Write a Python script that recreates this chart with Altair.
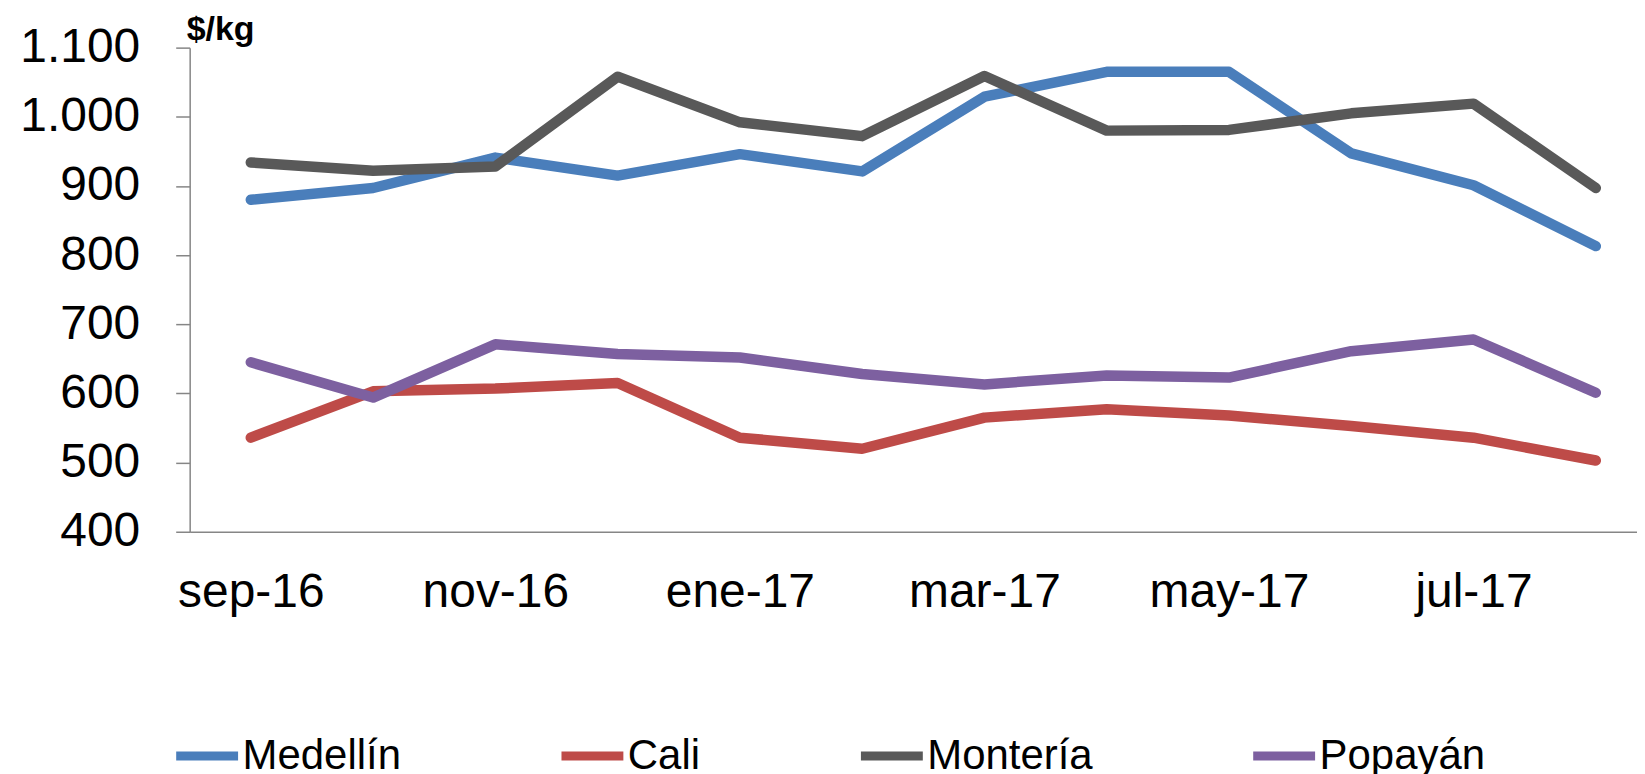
import altair as alt
import pandas as pd

months = ['sep-16', 'oct-16', 'nov-16', 'dic-16', 'ene-17', 'feb-17',
          'mar-17', 'abr-17', 'may-17', 'jun-17', 'jul-17', 'ago-17']
medellin = [880, 897, 941, 915, 946, 921, 1029, 1065, 1065, 947, 901, 813]
cali = [536, 603, 607, 615, 536, 520, 565, 577, 568, 553, 536, 503]
monteria = [934, 922, 928, 1058, 992, 972, 1059, 980, 981, 1005, 1019, 897]
popayan = [645, 594, 671, 657, 652, 628, 613, 626, 623, 661, 678, 601]

series_names = ['Medellín', 'Cali', 'Montería', 'Popayán']
series_values = [medellin, cali, monteria, popayan]
colors = ['#4A7EBB', '#BE4B48', '#595959', '#7D60A0']

rows = []
for name, vals in zip(series_names, series_values):
    for i, v in enumerate(vals):
        rows.append({'idx': i, 'mes': months[i], 'ciudad': name, 'valor': v})
df = pd.DataFrame(rows)

FONT = 'Liberation Sans'
label_lookup = '[' + ','.join("'" + m + "'" for m in months) + ']'

chart = alt.Chart(df).mark_line(strokeWidth=10.5, strokeCap='round', strokeJoin='round').encode(
    x=alt.X('idx:Q',
            scale=alt.Scale(domain=[-0.5, 11.337], nice=False, zero=False),
            axis=alt.Axis(values=[0, 2, 4, 6, 8, 10], labelExpr=label_lookup + '[datum.value]',
                          title=None, grid=False, ticks=False, labelPadding=37,
                          labelFontSize=48, labelFont=FONT, labelColor='#000000',
                          domainColor='#868686', domainWidth=1.5, labelFlush=False)),
    y=alt.Y('valor:Q',
            scale=alt.Scale(domain=[400, 1100], nice=False, zero=False),
            axis=alt.Axis(values=[400, 500, 600, 700, 800, 900, 1000, 1100],
                          labelExpr="replace(format(datum.value, ','), ',', '.')",
                          title=None, grid=False, tickSize=14, tickColor='#868686', tickWidth=1.5,
                          labelPadding=36, labelFontSize=48, labelFont=FONT, labelColor='#000000',
                          domainColor='#868686', domainWidth=1.5)),
    color=alt.Color('ciudad:N',
                    scale=alt.Scale(domain=series_names, range=colors),
                    sort=series_names,
                    legend=alt.Legend(title=None, orient='none', direction='horizontal',
                                      legendX=-18, legendY=674,
                                      symbolType='stroke', symbolSize=3844, symbolStrokeWidth=9,
                                      labelFontSize=42, labelFont=FONT, labelColor='#000000',
                                      labelOffset=0, columnPadding=142, labelLimit=400)),
    detail='ciudad:N'
).properties(
    width=1450,
    height=485,
    title=alt.TitleParams('$/kg', anchor='start', frame='group', fontSize=34, fontWeight='bold',
                          font=FONT, color='#000000', offset=4, dx=-3, dy=27),
    autosize=alt.AutoSizeParams(type='none'),
    padding={'left': 182, 'top': 39, 'right': 0, 'bottom': 242}
).configure(background='#ffffff').configure_view(stroke=None, strokeWidth=0)

chart.save("out.html", embed_options={"renderer": "svg", "actions": False})
